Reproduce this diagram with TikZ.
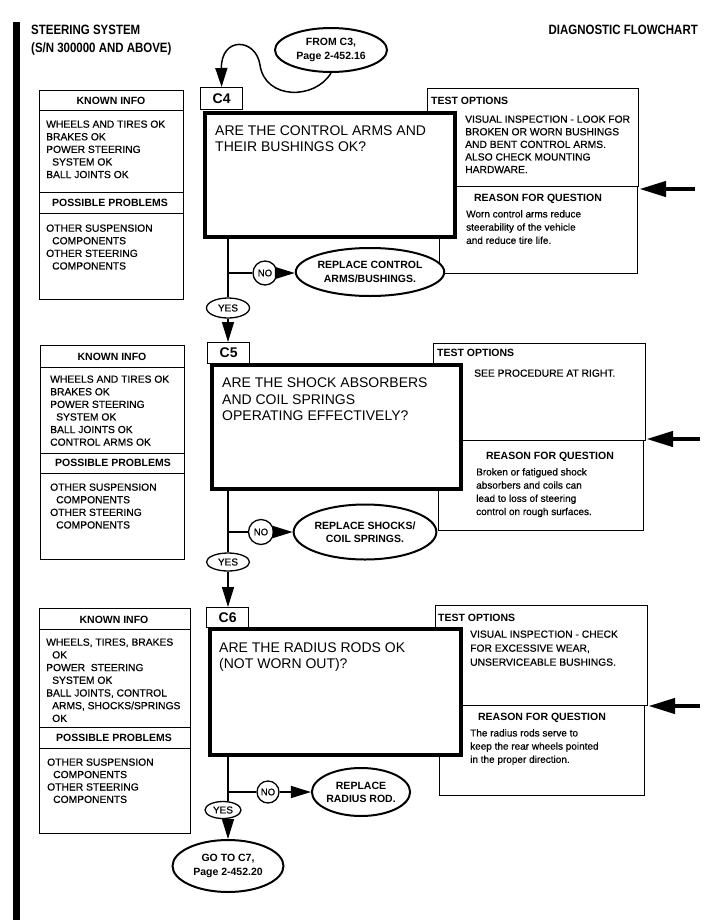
\documentclass[tikz,border=0pt]{standalone}
\usepackage{fontspec}
\setmainfont{Liberation Sans}
\newfontfamily\hdrfont{Liberation Sans}[FakeStretch=0.85]
\newfontfamily\medfont{Liberation Sans}[FakeBold=0.6]
\usetikzlibrary{arrows.meta,shapes.geometric}
\newcommand{\myind}{\hspace*{6pt}}
\begin{document}
\begin{tikzpicture}[x=1pt,y=-1pt,
 cell/.style={draw, line width=1.2pt, fill=white, inner sep=0pt, anchor=north west},
 qbox/.style={draw, line width=4pt, fill=white, inner sep=0pt, anchor=north west},
 hd/.style={font=\bfseries\fontsize{10.5}{12}\selectfont, inner sep=0pt},
 txt/.style={font=\medfont\fontsize{10.3}{12.6}\selectfont, align=left, anchor=north west, inner sep=0pt},
 rtxt/.style={font=\medfont\fontsize{10}{13.2}\selectfont, align=left, anchor=north west, inner sep=0pt},
 qtxt/.style={font=\fontsize{14}{15.5}\selectfont, align=left, anchor=north west, inner sep=0pt},
 tabbox/.style={draw, line width=1.2pt, fill=white, inner sep=0pt, anchor=north west, font=\bfseries\fontsize{14}{14}\selectfont},
 oval/.style={ellipse, draw, line width=2pt, fill=white, inner sep=0pt, align=center, font=\bfseries\fontsize{10.5}{13.2}\selectfont},
 yesov/.style={ellipse, draw, line width=1.3pt, fill=white, inner sep=0pt, font=\medfont\fontsize{10}{12}\selectfont},
 nocirc/.style={circle, draw, line width=1.3pt, fill=white, inner sep=0pt, font=\medfont\fontsize{9.5}{12}\selectfont},
 flow/.style={line width=1.5pt},
 flowarr/.style={line width=1.5pt, -{Triangle[length=20pt,width=12pt]}},
 bigarr/.style={line width=4.5pt, -{Triangle[length=27pt,width=15pt]}}
]
\useasboundingbox (0,0) rectangle (716,924);
\fill[white] (0,0) rectangle (716,924);

% left bar
\fill[black] (13,22) rectangle (20,920);

% header
\node[anchor=north west, inner sep=0pt, align=left, font=\hdrfont\bfseries\fontsize{13.5}{17.5}\selectfont] (title) at (31,25) {STEERING SYSTEM\\(S/N 300000 AND ABOVE)};
\node[anchor=north east, inner sep=0pt, font=\hdrfont\bfseries\fontsize{13.5}{17.5}\selectfont] (dfc) at (698,25) {DIAGNOSTIC FLOWCHART};

% ================= C4 =================
\node[cell, minimum width=144pt, minimum height=20pt] (k4h) at (39,90) {};
\node[hd] (k4hl) at (111,101) {KNOWN INFO};
\node[cell, minimum width=144pt, minimum height=82pt] (k4b) at (39,110) {};
\node[cell, minimum width=144pt, minimum height=21pt] (k4p) at (39,192) {};
\node[hd] (k4pl) at (110,203) {POSSIBLE PROBLEMS};
\node[cell, minimum width=144pt, minimum height=86pt] (k4q) at (39,213) {};
\node[txt] (k4t) at (46,120.3) {WHEELS AND TIRES OK\\BRAKES OK\\POWER STEERING\\\myind SYSTEM OK\\BALL JOINTS OK};
\node[txt] (k4u) at (46,224.3) {OTHER SUSPENSION\\\myind COMPONENTS\\OTHER STEERING\\\myind COMPONENTS};

\node[cell, minimum width=211pt, minimum height=98pt] (o4) at (427,88) {};
\node[hd, anchor=west] (o4l) at (431,101) {TEST OPTIONS};
\node[txt] (o4t) at (465,115.3) {VISUAL INSPECTION - LOOK FOR\\BROKEN OR WORN BUSHINGS\\AND BENT CONTROL ARMS.\\ALSO CHECK MOUNTING\\HARDWARE.};
\node[cell, minimum width=198pt, minimum height=87pt] (w4) at (439,186) {};
\node[hd] (w4l) at (538,199) {REASON FOR QUESTION};
\node[rtxt] (w4t) at (466,210) {Worn control arms reduce\\steerability of the vehicle\\and reduce tire life.};

\node[qbox, minimum width=250pt, minimum height=124pt] (q4) at (203,110.5) {};
\node[qtxt] (q4t) at (215,126) {ARE THE CONTROL ARMS AND\\THEIR BUSHINGS OK?};
\node[tabbox, minimum width=42pt, minimum height=22pt] (t4) at (200,87) {C4};

\node[oval, minimum width=112pt, minimum height=44pt] (f3) at (331,50) {FROM C3,\\Page 2-452.16};
\draw[line width=1.5pt, -{Triangle[length=19pt,width=12pt]}] (f3.south) .. controls (315,100) and (265,100) .. (260,65) .. controls (256,38) and (221,36) .. (t4.north);

\node[nocirc, minimum size=24pt] (n4) at (265,273) {NO};
\node[oval, minimum width=135pt, minimum height=48pt] (r4) at (370,272) {REPLACE CONTROL\\ARMS/BUSHINGS.};
\node[yesov, minimum width=43pt, minimum height=20pt] (y4) at (228,308) {YES};
\coordinate (b4) at (228,273);
\draw[flow] (b4 |- q4.south) -- (y4.north);
\draw[flow] (b4) -- (n4.west);
\draw[flowarr] (n4.east) -- (n4.east -| r4.west);
\coordinate (e4) at (695,189);
\draw[bigarr] (e4) -- (e4 -| o4.east);

% ================= C5 =================
\node[cell, minimum width=144pt, minimum height=22pt] (k5h) at (40,345) {};
\node[hd] (k5hl) at (112,357) {KNOWN INFO};
\node[cell, minimum width=144pt, minimum height=86pt] (k5b) at (40,367) {};
\node[cell, minimum width=144pt, minimum height=20pt] (k5p) at (40,453) {};
\node[hd] (k5pl) at (113,463) {POSSIBLE PROBLEMS};
\node[cell, minimum width=144pt, minimum height=86pt] (k5q) at (40,473) {};
\node[txt] (k5t) at (50,375.3) {WHEELS AND TIRES OK\\BRAKES OK\\POWER STEERING\\\myind SYSTEM OK\\BALL JOINTS OK\\CONTROL ARMS OK};
\node[txt] (k5u) at (50,483.3) {OTHER SUSPENSION\\\myind COMPONENTS\\OTHER STEERING\\\myind COMPONENTS};

\node[cell, minimum width=212pt, minimum height=97pt] (o5) at (433,343) {};
\node[hd, anchor=west] (o5l) at (437,353) {TEST OPTIONS};
\node[txt] (o5t) at (474,369.3) {SEE PROCEDURE AT RIGHT.};
\node[cell, minimum width=205pt, minimum height=90pt] (w5) at (438,440) {};
\node[hd] (w5l) at (550,457) {REASON FOR QUESTION};
\node[rtxt] (w5t) at (476,468) {Broken or fatigued shock\\absorbers and coils can\\lead to loss of steering\\control on rough surfaces.};

\node[qbox, minimum width=249.5pt, minimum height=123.7pt] (q5) at (209.5,363) {};
\node[qtxt, font=\fontsize{14}{16.5}\selectfont] (q5t) at (222,378) {ARE THE SHOCK ABSORBERS\\AND COIL SPRINGS\\OPERATING EFFECTIVELY?};
\node[tabbox, minimum width=42pt, minimum height=21pt] (t5) at (207,342) {C5};

\draw[flowarr] (y4.south) -- (y4.south |- t5.north);

\node[nocirc, minimum size=25pt] (n5) at (261,532) {NO};
\node[oval, minimum width=126pt, minimum height=55pt] (r5) at (365,532) {REPLACE SHOCKS/\\COIL SPRINGS.};
\node[yesov, minimum width=43pt, minimum height=18pt] (y5) at (228,562) {YES};
\coordinate (b5) at (228,532);
\draw[flow] (b5 |- q5.south) -- (y5.north);
\draw[flow] (b5) -- (n5.west);
\draw[flowarr] (n5.east) -- (n5.east -| r5.west);
\coordinate (e5) at (700,439);
\draw[bigarr] (e5) -- (e5 -| o5.east);

% ================= C6 =================
\node[cell, minimum width=151pt, minimum height=21pt] (k6h) at (39,608) {};
\node[hd] (k6hl) at (114,620) {KNOWN INFO};
\node[cell, minimum width=151pt, minimum height=98pt] (k6b) at (39,629) {};
\node[cell, minimum width=151pt, minimum height=21pt] (k6p) at (39,727) {};
\node[hd] (k6pl) at (114,738) {POSSIBLE PROBLEMS};
\node[cell, minimum width=151pt, minimum height=85pt] (k6q) at (39,748) {};
\node[txt, font=\medfont\fontsize{10.3}{12.7}\selectfont] (k6t) at (46,638.3) {WHEELS, TIRES, BRAKES\\\myind OK\\POWER\ \ STEERING\\\myind SYSTEM OK\\BALL JOINTS, CONTROL\\\myind ARMS, SHOCKS/SPRINGS\\\myind OK};
\node[txt, font=\medfont\fontsize{10.3}{12.4}\selectfont] (k6u) at (47,758.3) {OTHER SUSPENSION\\\myind COMPONENTS\\OTHER STEERING\\\myind COMPONENTS};

\node[cell, minimum width=212pt, minimum height=100pt] (o6) at (435,605) {};
\node[hd, anchor=west] (o6l) at (438,618) {TEST OPTIONS};
\node[txt, font=\medfont\fontsize{10.3}{14}\selectfont] (o6t) at (470,630.3) {VISUAL INSPECTION - CHECK\\FOR EXCESSIVE WEAR,\\UNSERVICEABLE BUSHINGS.};
\node[cell, minimum width=205pt, minimum height=90pt] (w6) at (439,705) {};
\node[hd] (w6l) at (542,718) {REASON FOR QUESTION};
\node[rtxt] (w6t) at (470,729) {The radius rods serve to\\keep the rear wheels pointed\\in the proper direction.};

\node[qbox, minimum width=251pt, minimum height=126pt] (q6) at (208,627) {};
\node[qtxt] (q6t) at (219,643) {ARE THE RADIUS RODS OK\\(NOT WORN OUT)?};
\node[tabbox, minimum width=42pt, minimum height=20pt] (t6) at (206,607) {C6};

\draw[flowarr] (y5.south) -- (y5.south |- t6.north);

\node[nocirc, minimum size=22pt] (n6) at (268,792) {NO};
\node[oval, minimum width=98pt, minimum height=48pt] (r6) at (361,792) {REPLACE\\RADIUS ROD.};
\node[yesov, minimum width=36pt, minimum height=17pt] (y6) at (223,810) {YES};
\node[oval, minimum width=111pt, minimum height=52pt] (g7) at (228,866) {GO TO C7,\\Page 2-452.20};
\coordinate (b6) at (228,792);
\draw[flow] (b6 |- q6.south) -- (b6 |- y6.north);
\draw[flow] (b6) -- (n6.west);
\draw[flowarr] (n6.east) -- (n6.east -| r6.west);
\draw[flowarr] (b6 |- y6.south) -- (g7.north);
\coordinate (e6) at (700,706);
\draw[bigarr] (e6) -- (e6 -| o6.east);
\end{tikzpicture}
\end{document}
